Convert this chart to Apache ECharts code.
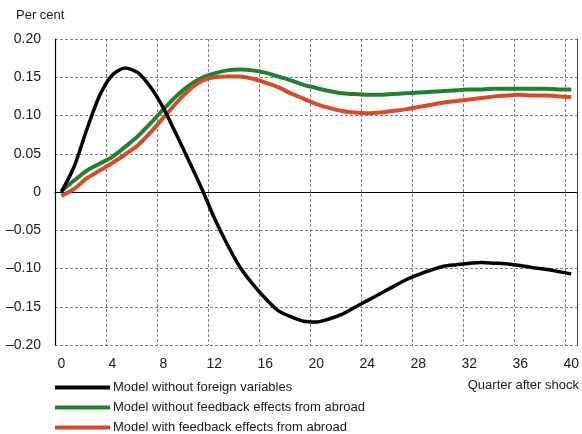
<!DOCTYPE html>
<html>
<head>
<meta charset="utf-8">
<script src="https://cdn.jsdelivr.net/npm/echarts@6/dist/echarts.min.js"></script>
<style>
  html, body { margin: 0; padding: 0; background: #fff; }
  #chart { width: 582px; height: 434px; }
</style>
</head>
<body>
<div id="chart"></div>
<script>
// Quarters after the shock (0..40)
const quarters = Array.from({ length: 41 }, (_, i) => String(i));

// Response of the model without foreign variables (per cent)
const noForeign = [
  0.000, 0.033, 0.082, 0.126, 0.153, 0.162, 0.156, 0.137, 0.110, 0.076,
  0.041, 0.005, -0.034, -0.068, -0.098, -0.120, -0.139, -0.155, -0.163, -0.169,
  -0.170, -0.166, -0.160, -0.151, -0.142, -0.133, -0.124, -0.115, -0.108, -0.102,
  -0.097, -0.095, -0.093, -0.092, -0.093, -0.094, -0.096, -0.099, -0.101, -0.104,
  -0.107
];

// Response of the model without feedback effects from abroad
const noFeedback = [
  0.001, 0.015, 0.028, 0.037, 0.046, 0.059, 0.073, 0.090, 0.108, 0.125,
  0.139, 0.149, 0.155, 0.159, 0.160, 0.159, 0.156, 0.151, 0.146, 0.140,
  0.136, 0.132, 0.129, 0.128, 0.127, 0.127, 0.128, 0.129, 0.130, 0.131,
  0.132, 0.133, 0.134, 0.134, 0.135, 0.135, 0.135, 0.135, 0.135, 0.134,
  0.134
];

// Response of the model with feedback effects from abroad
const withFeedback = [
  -0.005, 0.004, 0.018, 0.028, 0.038, 0.049, 0.061, 0.078, 0.097, 0.116,
  0.133, 0.145, 0.150, 0.151, 0.151, 0.148, 0.143, 0.137, 0.129, 0.122,
  0.115, 0.110, 0.106, 0.104, 0.103, 0.104, 0.106, 0.108, 0.111, 0.114,
  0.117, 0.119, 0.121, 0.123, 0.125, 0.126, 0.127, 0.126, 0.126, 0.125,
  0.124
];

const seriesNames = [
  'Model without foreign variables',
  'Model without feedback effects from abroad',
  'Model with feedback effects from abroad'
];
const seriesColors = ['#000000', '#24802f', '#d24d28'];

const FONT = '"Liberation Sans", Arial, sans-serif';

function fmtY(v) {
  if (Math.abs(v) < 1e-9) return '0';
  const s = Math.abs(v).toFixed(2);
  return v < 0 ? '\u2013' + s : s;
}

const chart = echarts.init(document.getElementById('chart'), null, { renderer: 'canvas' });

const gridDash = { color: '#808080', width: 1, type: [3, 2] };

// one legend row per series, stacked under the plot
const legends = seriesNames.map((name, i) => ({
  orient: 'horizontal',
  left: 55,
  top: 381 + i * 20,
  padding: 0,
  itemWidth: 55,
  itemHeight: 4,
  itemGap: 0,
  icon: 'rect',
  textStyle: { fontSize: 13, fontFamily: FONT, color: '#1a1a1a', padding: [0, 0, 0, -2] },
  data: [name]
}));

chart.setOption({
  animation: false,
  textStyle: { fontFamily: FONT },
  grid: { left: 55, right: 3, top: 39, bottom: 89, containLabel: false },
  xAxis: {
    type: 'category',
    data: quarters,
    boundaryGap: true,
    axisLine: { show: true, lineStyle: { color: '#000', width: 1.2 } },
    axisTick: { show: false },
    axisLabel: {
      interval: 3, color: '#1a1a1a', fontSize: 14, fontFamily: FONT, margin: 12
    },
    splitLine: { show: true, interval: 3, lineStyle: gridDash }
  },
  yAxis: [
    {
      type: 'value',
      min: -0.2, max: 0.2, interval: 0.05,
      axisLine: { show: true, lineStyle: { color: '#000', width: 1.2 } },
      axisTick: { show: false },
      axisLabel: {
        color: '#1a1a1a', fontSize: 14, fontFamily: FONT, margin: 14,
        formatter: fmtY
      },
      splitLine: { show: true, lineStyle: gridDash }
    },
    {
      type: 'value',
      position: 'right',
      min: -0.2, max: 0.2, interval: 0.05,
      axisLine: { show: true, lineStyle: { color: '#444', width: 1 } },
      axisTick: { show: false },
      axisLabel: { show: false },
      splitLine: { show: false }
    }
  ],
  legend: legends,
  graphic: [
    {
      type: 'text', left: 16, top: 9,
      style: { text: 'Per cent', fontSize: 13, fontFamily: FONT, fill: '#1a1a1a' }
    },
    {
      type: 'text', right: 3, top: 379,
      style: { text: 'Quarter after shock', fontSize: 13, fontFamily: FONT, fill: '#1a1a1a' }
    }
  ],
  series: [
    {
      name: seriesNames[0], type: 'line', data: noForeign,
      symbol: 'none', smooth: 0.25, color: seriesColors[0],
      lineStyle: { width: 3.5, color: seriesColors[0] }, z: 5,
      markLine: {
        silent: true, symbol: 'none', label: { show: false },
        lineStyle: { color: '#000', width: 1, type: 'solid' },
        data: [{ yAxis: 0 }], z: 1
      }
    },
    {
      name: seriesNames[1], type: 'line', data: noFeedback,
      symbol: 'none', smooth: 0.3, color: seriesColors[1],
      lineStyle: { width: 4, color: seriesColors[1] }, z: 3
    },
    {
      name: seriesNames[2], type: 'line', data: withFeedback,
      symbol: 'none', smooth: 0.3, color: seriesColors[2],
      lineStyle: { width: 4, color: seriesColors[2] }, z: 4
    }
  ]
});
</script>
</body>
</html>
